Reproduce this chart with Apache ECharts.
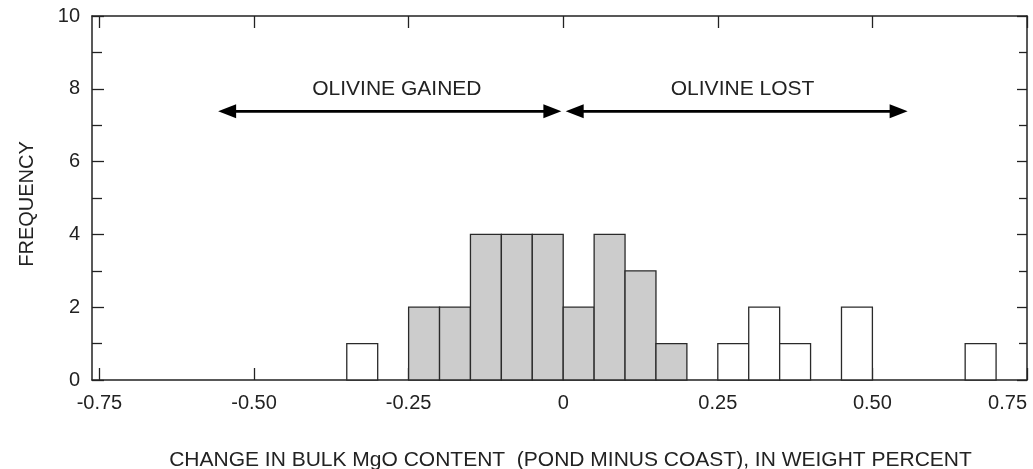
<!DOCTYPE html>
<html>
<head>
<meta charset="utf-8">
<script src="https://cdn.jsdelivr.net/npm/echarts@6/dist/echarts.min.js"></script>
<style>
html,body{margin:0;padding:0;background:#fff;}
#chart{width:1033px;height:469px;}
</style>
</head>
<body>
<div id="chart"></div>
<script>
// ---- data ----
const binStart = [-0.35, -0.25, -0.20, -0.15, -0.10, -0.05, 0.00, 0.05, 0.10, 0.15, 0.25, 0.30, 0.35, 0.45, 0.65];
const binEnd   = [-0.30, -0.20, -0.15, -0.10, -0.05, 0.00, 0.05, 0.10, 0.15, 0.20, 0.30, 0.35, 0.40, 0.50, 0.70];
const counts   = [1, 2, 2, 4, 4, 4, 2, 4, 3, 1, 1, 2, 1, 2, 1];
const shaded   = [0, 1, 1, 1, 1, 1, 1, 1, 1, 1, 0, 0, 0, 0, 0];

const xTickValues = [-0.75, -0.50, -0.25, 0, 0.25, 0.50, 0.75];
const xTickLabels = ['-0.75', '-0.50', '-0.25', '0', '0.25', '0.50', '0.75'];

const arrowFrom = [-0.558, 0.004];
const arrowTo   = [-0.003, 0.557];
const arrowY    = [7.38, 7.38];

const noteText = ['OLIVINE GAINED', 'OLIVINE LOST'];
const noteX    = [-0.269, 0.290];
const noteY    = [7.98, 7.98];

const xTitle = 'CHANGE IN BULK MgO CONTENT  (POND MINUS COAST), IN WEIGHT PERCENT';
const yTitle = 'FREQUENCY';

// ---- chart ----
const FONT = '"Liberation Sans", Arial, Helvetica, sans-serif';
const INK = '#222';
const chart = echarts.init(document.getElementById('chart'), null, {renderer: 'canvas'});

const barData = binStart.map((s, i) => [s, binEnd[i], counts[i], shaded[i]]);
const arrowData = arrowFrom.map((f, i) => [f, arrowTo[i], arrowY[i]]);
const noteData = noteText.map((t, i) => [noteX[i], noteY[i], t]);

const xMin = -0.762, xMax = 0.75;

const axisLineStyle = {color: INK, width: 1.5};

chart.setOption({
  animation: false,
  backgroundColor: '#fff',
  textStyle: {fontFamily: FONT},
  grid: {left: 92, right: 6, top: 16, bottom: 89, containLabel: false, outerBoundsMode: 'none'},
  xAxis: [
    {
      type: 'value', min: xMin, max: xMax, position: 'bottom',
      axisLine: {show: true, onZero: false, lineStyle: axisLineStyle},
      axisTick: {show: true, inside: true, length: 12, customValues: xTickValues, lineStyle: {color: INK, width: 1.3}},
      axisLabel: {
        show: true, customValues: xTickValues, margin: 13, fontSize: 20, color: INK, fontFamily: FONT,
        alignMaxLabel: 'right',
        formatter: v => { const i = xTickValues.findIndex(t => Math.abs(t - v) < 1e-6); return i >= 0 ? xTickLabels[i] : ''; }
      },
      splitLine: {show: false},
      name: xTitle, nameLocation: 'middle', nameGap: 70,
      nameTextStyle: {fontSize: 21, color: INK, fontFamily: FONT, padding: [0, 0, 0, 22]}
    },
    {
      type: 'value', min: xMin, max: xMax, position: 'top',
      axisLine: {show: true, onZero: false, lineStyle: axisLineStyle},
      axisTick: {show: true, inside: true, length: 12, customValues: xTickValues, lineStyle: {color: INK, width: 1.3}},
      axisLabel: {show: false},
      splitLine: {show: false}
    }
  ],
  yAxis: [
    {
      type: 'value', min: 0, max: 10, interval: 2, position: 'left',
      axisLine: {show: true, onZero: false, lineStyle: axisLineStyle},
      axisTick: {show: true, inside: true, length: 12, lineStyle: {color: INK, width: 1.3}},
      minorTick: {show: true, splitNumber: 2, length: 10, lineStyle: {color: INK, width: 1.3}},
      axisLabel: {show: true, margin: 12, fontSize: 20, color: INK, fontFamily: FONT},
      splitLine: {show: false},
      minorSplitLine: {show: false},
      name: yTitle, nameLocation: 'middle', nameGap: 55, nameRotate: 90,
      nameTextStyle: {fontSize: 20, color: INK, fontFamily: FONT, padding: [0, 12, 0, 0]}
    },
    {
      type: 'value', min: 0, max: 10, interval: 2, position: 'right',
      axisLine: {show: true, onZero: false, lineStyle: axisLineStyle},
      axisTick: {show: true, inside: true, length: 10, lineStyle: {color: INK, width: 1.3}},
      minorTick: {show: true, splitNumber: 2, length: 8, lineStyle: {color: INK, width: 1.3}},
      axisLabel: {show: false},
      splitLine: {show: false},
      minorSplitLine: {show: false}
    }
  ],
  series: [
    {
      type: 'custom',
      xAxisIndex: 0, yAxisIndex: 0,
      encode: {x: [0, 1], y: 2},
      data: barData,
      renderItem: (params, api) => {
        const p0 = api.coord([api.value(0), 0]);
        const p1 = api.coord([api.value(1), api.value(2)]);
        return {
          type: 'rect',
          shape: {x: p0[0], y: p1[1], width: p1[0] - p0[0], height: p0[1] - p1[1]},
          style: {fill: api.value(3) ? '#cccccc' : '#ffffff', stroke: '#2a2a2a', lineWidth: 1.3}
        };
      },
      silent: true
    },
    {
      type: 'custom',
      xAxisIndex: 0, yAxisIndex: 0,
      encode: {x: [0, 1], y: 2},
      data: arrowData,
      renderItem: (params, api) => {
        const a = api.coord([api.value(0), api.value(2)]);
        const b = api.coord([api.value(1), api.value(2)]);
        const L = 18, H = 7;
        return {
          type: 'group',
          children: [
            {type: 'line', shape: {x1: a[0] + L - 2, y1: a[1], x2: b[0] - L + 2, y2: b[1]}, style: {stroke: '#000', lineWidth: 2.6}},
            {type: 'polygon', shape: {points: [[a[0], a[1]], [a[0] + L, a[1] - H], [a[0] + L, a[1] + H]]}, style: {fill: '#000'}},
            {type: 'polygon', shape: {points: [[b[0], b[1]], [b[0] - L, b[1] - H], [b[0] - L, b[1] + H]]}, style: {fill: '#000'}}
          ]
        };
      },
      silent: true
    },
    {
      type: 'custom',
      xAxisIndex: 0, yAxisIndex: 0,
      encode: {x: 0, y: 1},
      data: noteData,
      renderItem: (params, api) => {
        const p = api.coord([api.value(0), api.value(1)]);
        return {
          type: 'text',
          x: p[0], y: p[1],
          style: {text: noteText[params.dataIndex], fill: INK, font: '21px ' + FONT, align: 'center', verticalAlign: 'middle'}
        };
      },
      silent: true
    }
  ]
});
</script>
</body>
</html>
